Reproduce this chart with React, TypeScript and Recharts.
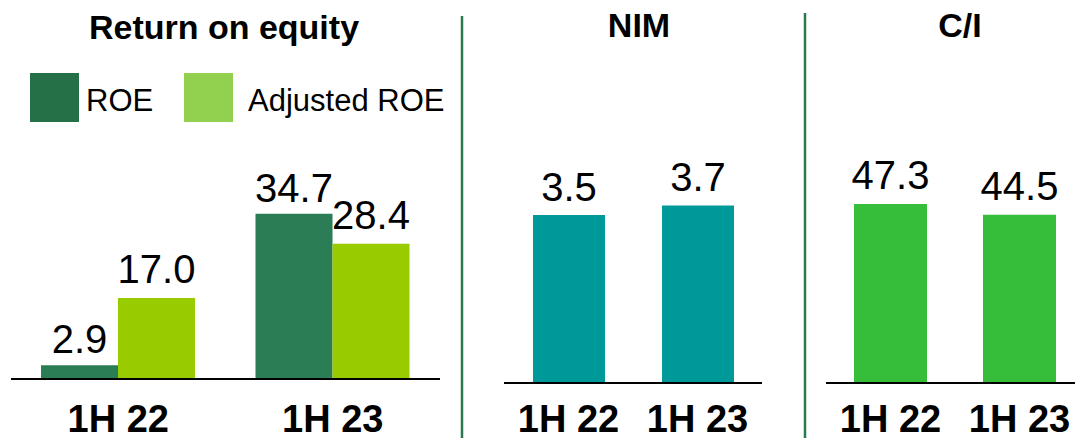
import React from 'react';
import { BarChart, Bar, XAxis, YAxis, LabelList, Legend } from 'recharts';

const categories = ['1H 22', '1H 23'];
const roeValues = [2.9, 34.7];
const adjustedRoeValues = [17.0, 28.4];
const nimValues = [3.5, 3.7];
const costIncomeValues = [47.3, 44.5];
const panelTitles = ['Return on equity', 'NIM', 'C/I'];
const legendNames = ['ROE', 'Adjusted ROE'];

const roeData = categories.map((c, i) => ({ cat: c, roe: roeValues[i], adj: adjustedRoeValues[i] }));
const nimData = categories.map((c, i) => ({ cat: c, v: nimValues[i] }));
const ciData = categories.map((c, i) => ({ cat: c, v: costIncomeValues[i] }));

const FONT = '"Liberation Sans", Arial, Helvetica, sans-serif';
const C_ROE = '#2a7d55';
const C_ADJ = '#99cc00';
const C_NIM = '#009999';
const C_CI = '#36bd3a';
const LEGEND_COLORS = ['#267047', '#92d050'];
const LEGEND_X = [0, 154];
const LEGEND_GAP = [7, 15];
const SEP = '#2a7a4f';

const fmt = (v: any) => Number(v).toFixed(1);
const labelStyle = { fontSize: 40, fill: '#000', fontFamily: FONT };
const tickStyle = { fontSize: 38, fontWeight: 'bold' as const, fill: '#000', fontFamily: FONT };
const axisLineStyle = { stroke: '#000', strokeWidth: 2 };

const LegendContent = () => (
  <div style={{ position: 'relative', width: 420, height: 49, fontFamily: FONT }}>
    {legendNames.map((n, i) => (
      <div key={n} style={{ position: 'absolute', left: LEGEND_X[i], top: 0, display: 'flex', alignItems: 'flex-start' }}>
        <div style={{ width: 49, height: 49, background: LEGEND_COLORS[i] }} />
        <div style={{ marginLeft: LEGEND_GAP[i], fontSize: 31, lineHeight: '49px', paddingTop: 3, color: '#000', whiteSpace: 'nowrap' }}>{n}</div>
      </div>
    ))}
  </div>
);

export default function App() {
  return (
    <div style={{ position: 'absolute', left: 0, top: 0, width: 1075, height: 438, overflow: 'hidden', background: '#fff' }}>
      <div style={{ position: 'absolute', left: 0, top: 0 }}>
        <BarChart width={460} height={438} data={roeData} margin={{ top: 141, right: 20, bottom: 0, left: 11 }} barGap={0}>
          <XAxis dataKey="cat" height={59} tickSize={0} tickMargin={26} tickLine={false} axisLine={axisLineStyle} tick={tickStyle} interval={0} />
          <YAxis hide domain={[0, 50]} />
          <Legend layout="horizontal" verticalAlign="middle" align="center" wrapperStyle={{ top: 73, left: 30, width: 420, height: 49 }} content={<LegendContent />} />
          <Bar dataKey="roe" name="ROE" fill={C_ROE} barSize={77} isAnimationActive={false}>
            <LabelList dataKey="roe" position="top" offset={12} formatter={fmt} style={labelStyle} />
          </Bar>
          <Bar dataKey="adj" name="Adjusted ROE" fill={C_ADJ} barSize={77} isAnimationActive={false}>
            <LabelList dataKey="adj" position="top" offset={15} formatter={fmt} style={labelStyle} />
          </Bar>
        </BarChart>
      </div>
      <div style={{ position: 'absolute', left: 465, top: 0 }}>
        <BarChart width={335} height={438} data={nimData} margin={{ top: 143, right: 38, bottom: 0, left: 39 }}>
          <XAxis dataKey="cat" height={55} tickSize={0} tickMargin={22} tickLine={false} axisLine={axisLineStyle} tick={tickStyle} interval={0} />
          <YAxis hide domain={[0, 5]} />
          <Bar dataKey="v" name="NIM" fill={C_NIM} barSize={72} isAnimationActive={false}>
            <LabelList dataKey="v" position="top" offset={14} formatter={fmt} style={labelStyle} />
          </Bar>
        </BarChart>
      </div>
      <div style={{ position: 'absolute', left: 808, top: 0 }}>
        <BarChart width={300} height={438} data={ciData} margin={{ top: 156, right: 24, bottom: 0, left: 18 }}>
          <XAxis dataKey="cat" height={55} tickSize={0} tickMargin={22} tickLine={false} axisLine={axisLineStyle} tick={tickStyle} interval={0} />
          <YAxis hide domain={[0, 60]} />
          <Bar dataKey="v" name="C/I" fill={C_CI} barSize={73} isAnimationActive={false}>
            <LabelList dataKey="v" position="top" offset={15} formatter={fmt} style={labelStyle} />
          </Bar>
        </BarChart>
      </div>
      <svg width={1075} height={438} style={{ position: 'absolute', left: 0, top: 0, pointerEvents: 'none' }}>
        <line x1={462} y1={16} x2={462} y2={438} stroke={SEP} strokeWidth={2.5} />
        <line x1={805} y1={13} x2={805} y2={438} stroke={SEP} strokeWidth={2.5} />
        <text x={224} y={39} textAnchor="middle" fontFamily={FONT} fontWeight="bold" fontSize={34} fill="#000">{panelTitles[0]}</text>
        <text x={639} y={37} textAnchor="middle" fontFamily={FONT} fontWeight="bold" fontSize={34} fill="#000">{panelTitles[1]}</text>
        <text x={960} y={37} textAnchor="middle" fontFamily={FONT} fontWeight="bold" fontSize={34} fill="#000">{panelTitles[2]}</text>
      </svg>
    </div>
  );
}
